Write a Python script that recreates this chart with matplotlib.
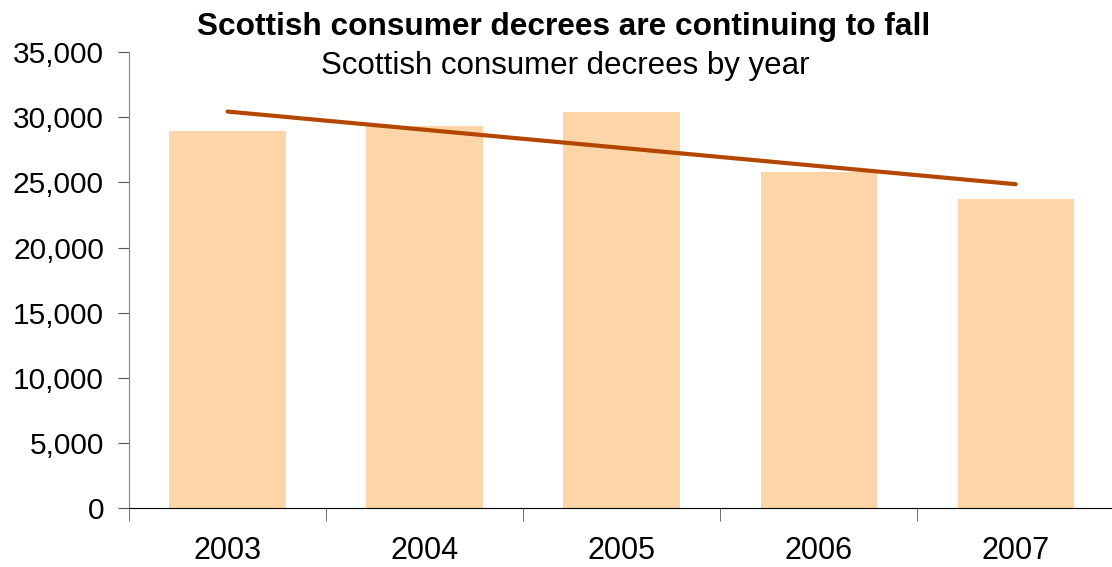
import numpy as np
import matplotlib.pyplot as plt

plt.rcParams['font.family'] = ['Liberation Sans', 'DejaVu Sans']

years = ['2003', '2004', '2005', '2006', '2007']
decrees = [28950, 29350, 30400, 25800, 23750]

fig = plt.figure(figsize=(11.12, 5.67), dpi=100)
ax = fig.add_axes([0.116, 0.104, 0.886, 0.804])

x = np.arange(len(years))
ax.bar(x, decrees, width=0.59, color='#FDD5A8', zorder=1)

# linear trendline
k, b = np.polyfit(x, decrees, 1)
ax.plot(x[[0, -1]], k * x[[0, -1]] + b, color='#B34700', linewidth=3,
        solid_capstyle='round', zorder=2)

ax.set_xlim(-0.5, 4.5)
ax.set_ylim(0, 35000)
ax.set_yticks(range(0, 35001, 5000))
ax.set_yticklabels([f'{v:,}' for v in range(0, 35001, 5000)], fontsize=21.5)
ax.set_xticks(x)
ax.set_xticklabels(years, fontsize=22)
ax.set_xticks(np.arange(-0.5, 4.6, 1), minor=True)
ax.tick_params(axis='x', which='major', length=0, pad=20)
ax.tick_params(axis='x', which='minor', length=9, color='#555555')
ax.tick_params(axis='y', length=8, color='#555555', pad=10)

for s in ['top', 'right']:
    ax.spines[s].set_visible(False)
ax.spines['left'].set_color('#808080')
ax.spines['bottom'].set_color('black')

fig.text(0.507, 0.952, 'Scottish consumer decrees are continuing to fall',
         ha='center', va='center', fontsize=22.8, fontweight='bold')
fig.text(0.508, 0.883, 'Scottish consumer decrees by year',
         ha='center', va='center', fontsize=22.5)

plt.savefig('out.png')
